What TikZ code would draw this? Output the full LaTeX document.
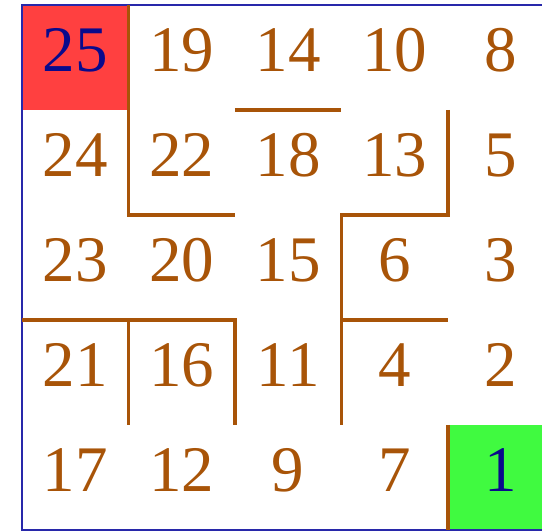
\documentclass[tikz,border=0pt]{standalone}
\usepackage{fontspec}
\setmainfont{Liberation Serif}
\usepackage{tikz}
\definecolor{mazewall}{RGB}{168,84,8}
\definecolor{mazeframe}{RGB}{40,40,170}
\definecolor{startred}{RGB}{255,64,64}
\definecolor{goalgreen}{RGB}{64,250,64}
\definecolor{numblue}{RGB}{10,10,140}

\begin{document}
\begin{tikzpicture}[x=2.13cm,y=-2.1cm,
  num/.style={anchor=base,inner sep=0pt,font=\fontsize{37}{40}\selectfont},
  wall/.style={draw=mazewall,line width=2pt},
  frame/.style={draw=mazeframe,line width=1.1pt}
]
\useasboundingbox (-0.2066,-0.0476) rectangle (4.883,5.019);
\clip (-0.2066,-0.0476) rectangle (4.883,5.019);

% start and goal cells
\fill[startred]  (0,0) rectangle (1,1);
\fill[goalgreen] (4,4) rectangle (5,5);
\draw[frame] (0,0) rectangle (5,5);

% numbers, row by row
\foreach \row [count=\r] in {{25,19,14,10,8},{24,22,18,13,5},{23,20,15,6,3},{21,16,11,4,2},{17,12,9,7,1}}
  \foreach \n [count=\c] in \row {
    \def\tc{mazewall}
    \ifnum\n=25 \def\tc{numblue}\fi
    \ifnum\n=1 \def\tc{numblue}\fi
    \node[num,text=\tc] (n\n) at (\c-0.5,\r-0.362) {\n};
  }

% walls
\draw[wall] (1,0) -- (1,2) -- (2,2);
\draw[wall] (2,1) -- (3,1);
\draw[wall] (4,1) -- (4,2) -- (3,2) -- (3,4);
\draw[wall] (3,3) -- (4,3);
\draw[wall] (0,3) -- (2,3) -- (2,4);
\draw[wall] (1,3) -- (1,4);
\draw[wall] (4,4) -- (4,5);
\end{tikzpicture}
\end{document}
